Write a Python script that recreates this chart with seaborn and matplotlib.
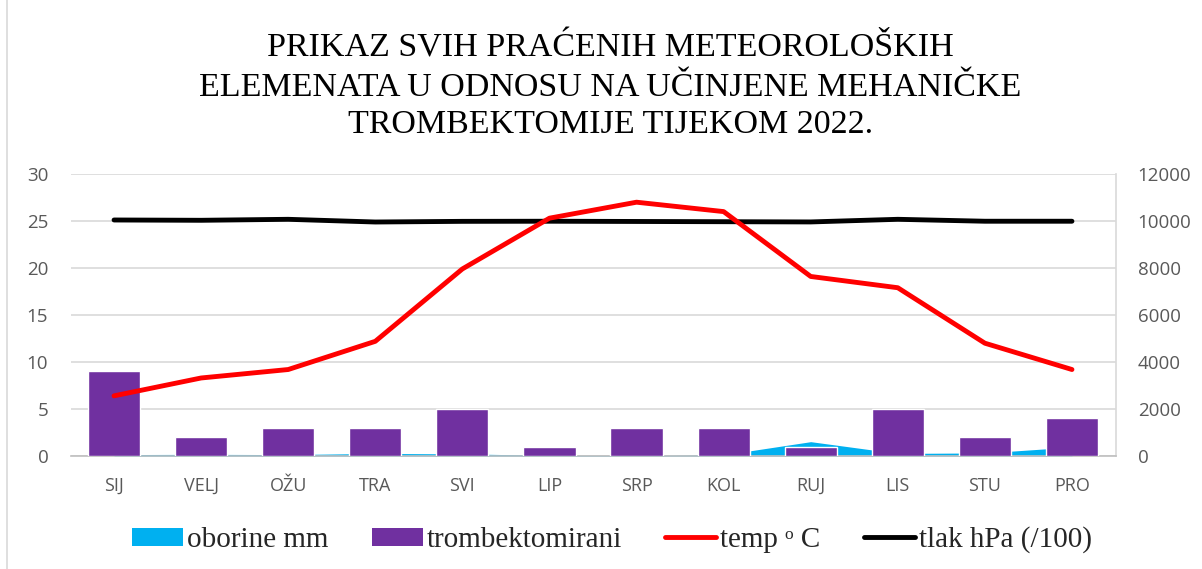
import matplotlib
matplotlib.use("Agg")
import matplotlib.pyplot as plt
import seaborn as sns
import numpy as np
import pandas as pd
from matplotlib.patches import Patch, Rectangle
from matplotlib.lines import Line2D

months = ["SIJ", "VELJ", "OŽU", "TRA", "SVI", "LIP", "SRP", "KOL", "RUJ", "LIS", "STU", "PRO"]
trombektomirani = [9, 2, 3, 3, 5, 1, 3, 3, 1, 5, 2, 4]
temp_c = [6.4, 8.3, 9.2, 12.2, 19.9, 25.3, 27.0, 26.0, 19.1, 17.9, 12.0, 9.2]
tlak = [10043, 10030, 10072, 9957, 9985, 9990, 9980, 9970, 9960, 10072, 9990, 9990]
oborine = [60, 70, 60, 110, 90, 30, 20, 50, 610, 110, 130, 380]

left_ticks = [0, 5, 10, 15, 20, 25, 30]
right_ticks = [0, 2000, 4000, 6000, 8000, 10000, 12000]

title_lines = ["PRIKAZ SVIH PRAĆENIH METEOROLOŠKIH",
               "ELEMENATA U ODNOSU NA UČINJENE MEHANIČKE",
               "TROMBEKTOMIJE TIJEKOM 2022."]
legend_labels = ["oborine mm", "trombektomirani", "temp ᵒ C", "tlak hPa (/100)"]

df = pd.DataFrame({"mjesec": months, "trombektomirani": trombektomirani,
                   "temp": temp_c, "tlak": tlak, "oborine": oborine,
                   "idx": np.arange(len(months))})

sns.set_theme(style="white")
plt.rcParams["font.family"] = ["Open Sans", "DejaVu Sans"]

fig = plt.figure(figsize=(12.02, 5.69), dpi=100)
fig.patch.set_facecolor("white")
ax = fig.add_axes([70.5 / 1202, 1 - 456 / 569, (1115.5 - 70.5) / 1202, (456 - 174) / 569])
ax2 = ax.twinx()

# primary (right scale): precipitation area + pressure line
ax.fill_between(df["idx"], df["oborine"], color="#00B0F0", lw=0, zorder=1)
sns.lineplot(data=df, x="idx", y="tlak", ax=ax, color="black", lw=3.5, zorder=3,
             legend=False)
ax.set_ylim(0, 12000)
ax.set_yticks(right_ticks)
ax.yaxis.tick_right()
ax.yaxis.set_label_position("right")
ax.grid(axis="y", color="#d9d9d9", lw=1.2)
ax.set_axisbelow(True)

# secondary (left scale): bars + temperature
sns.barplot(data=df, x="mjesec", y="trombektomirani", ax=ax2, color="#7030A0",
            width=0.6, saturation=1, zorder=2)
sns.lineplot(data=df, x="idx", y="temp", ax=ax2, color="#FF0000", lw=3.5, zorder=4,
             legend=False)
ax2.set_ylim(0, 30)
ax2.set_yticks(left_ticks)
ax2.yaxis.tick_left()
ax2.set_xlim(-0.5, 11.5)

for a in (ax, ax2):
    a.set_xlabel("")
    a.set_ylabel("")
    for s in a.spines.values():
        s.set_visible(False)
    a.tick_params(axis="both", length=0, labelsize=13.5, labelcolor="#595959", pad=16)

ax.spines["right"].set_visible(True)
ax.spines["right"].set_color("#d9d9d9")
ax.spines["right"].set_linewidth(1.2)
ax.spines["bottom"].set_visible(True)
ax.spines["bottom"].set_color("#bfbfbf")
ax.spines["bottom"].set_linewidth(1.2)

ax.set_xlim(-0.5, 11.5)
ax.set_xticks(range(len(months)))
ax.set_xticklabels(months)
ax.tick_params(axis="x", labelsize=13, labelcolor="#595959", pad=15)

y_title = [48, 88, 125]
for line, yp in zip(title_lines, y_title):
    fig.text(0.508, 1 - yp / 569, line, ha="center", va="center",
             family=["Liberation Serif"], fontsize=24.5, color="black")

handles = [Patch(facecolor="#00B0F0", edgecolor="none"),
           Patch(facecolor="#7030A0", edgecolor="none"),
           Line2D([], [], color="#FF0000", lw=3.5),
           Line2D([], [], color="black", lw=3.5)]
fig.legend(handles, legend_labels, loc="center", bbox_to_anchor=(0.509, 1 - 540 / 569),
           ncol=4, frameon=False,
           prop={"family": ["Liberation Serif", "DejaVu Serif"], "size": 21},
           handlelength=1.75, handleheight=0.6, handletextpad=0.12, columnspacing=1.5)

fig.add_artist(Rectangle((7 / 1202, -0.01), 1.2, 1.05, transform=fig.transFigure,
                         fill=False, edgecolor="#d9d9d9", lw=1.2))

fig.savefig("out.png", dpi=100, facecolor="white")
